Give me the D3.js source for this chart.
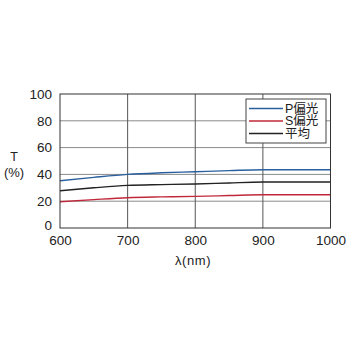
<!DOCTYPE html>
<html>
<head>
<meta charset="utf-8">
<script src="https://cdn.jsdelivr.net/npm/d3@7"></script>
<style>
  body { margin: 0; background: #fff; }
  text { font-family: "Liberation Sans", Arial, "Noto Sans CJK JP", sans-serif; fill: #222; }
</style>
</head>
<body>
<svg id="chart" width="350" height="350"></svg>
<script>
const wavelength = [600, 650, 700, 750, 800, 850, 900, 950, 1000];
const pPol = [35.3, 37.8, 40.0, 41.2, 42.0, 42.8, 43.5, 43.5, 43.5];
const sPol = [19.6, 21.2, 22.6, 23.2, 23.6, 24.2, 24.8, 24.8, 24.8];
const avg = [27.8, 30.0, 31.8, 32.4, 32.8, 33.6, 34.3, 34.3, 34.3];
const xTicks = [600, 700, 800, 900, 1000];
const yTicks = [0, 20, 40, 60, 80, 100];
const seriesNames = ['P偏光', 'S偏光', '平均'];
const seriesColors = ['#2a5f9e', '#c0283a', '#222'];

const mLeft = 60, mRight = 330.5, mTop = 94, mBottom = 228;
const svg = d3.select('#chart');
const x = d3.scaleLinear().domain([600, 1000]).range([mLeft, mRight]);
const y = d3.scaleLinear().domain([0, 100]).range([mBottom, mTop]);

// grid
svg.append('g')
  .selectAll('line')
  .data(yTicks.slice(1, -1))
  .join('line')
  .attr('x1', mLeft).attr('x2', mRight)
  .attr('y1', d => y(d)).attr('y2', d => y(d))
  .attr('stroke', '#8a8a8a').attr('stroke-width', 1);
svg.append('g')
  .selectAll('line')
  .data(xTicks.slice(1, -1))
  .join('line')
  .attr('y1', mTop).attr('y2', mBottom)
  .attr('x1', d => x(d)).attr('x2', d => x(d))
  .attr('stroke', '#555').attr('stroke-width', 1);

// lines
const line = d3.line().x((d, i) => x(wavelength[i])).y(d => y(d)).curve(d3.curveMonotoneX);
[pPol, sPol, avg].forEach((s, i) => {
  svg.append('path')
    .attr('d', line(s))
    .attr('fill', 'none')
    .attr('stroke', seriesColors[i])
    .attr('stroke-width', 1.4);
});

// frame
svg.append('rect')
  .attr('x', mLeft).attr('y', mTop)
  .attr('width', mRight - mLeft).attr('height', mBottom - mTop)
  .attr('fill', 'none').attr('stroke', '#333').attr('stroke-width', 1);

// axes
const xAxis = svg.append('g').attr('transform', `translate(0,${mBottom})`)
  .call(d3.axisBottom(x).tickValues(xTicks).tickFormat(d3.format('d')).tickSize(0).tickPadding(7));
xAxis.select('.domain').remove();
xAxis.selectAll('text').style('font-size', '13.5px').attr('fill', '#222');

const yAxis = svg.append('g').attr('transform', `translate(${mLeft},0)`)
  .call(d3.axisLeft(y).tickValues(yTicks).tickSize(0).tickPadding(8));
yAxis.select('.domain').remove();
yAxis.selectAll('text').style('font-size', '13.5px').attr('fill', '#222')
  .attr('dy', d => d === 0 ? '0.1em' : '0.32em');

// axis titles
svg.append('text').attr('x', 14).attr('y', 157).attr('text-anchor', 'middle')
  .attr('dominant-baseline', 'central').style('font-size', '12.5px').text('T');
svg.append('text').attr('x', 14).attr('y', 172).attr('text-anchor', 'middle')
  .attr('dominant-baseline', 'central').style('font-size', '13px').text('(%)');
svg.append('text').attr('x', 193).attr('y', 260.5).attr('text-anchor', 'middle')
  .attr('dominant-baseline', 'central').style('font-size', '13px')
  .style('letter-spacing', '0.6px').text('λ(nm)');

// legend
const legend = svg.append('g');
legend.append('rect')
  .attr('x', 246).attr('y', 99).attr('width', 80).attr('height', 44)
  .attr('fill', '#fff').attr('stroke', '#444').attr('stroke-width', 1);
const rows = [108.5, 121, 133.5];
seriesNames.forEach((n, i) => {
  legend.append('line')
    .attr('x1', 249).attr('x2', 283)
    .attr('y1', rows[i]).attr('y2', rows[i])
    .attr('stroke', seriesColors[i]).attr('stroke-width', 1.4);
  legend.append('text')
    .attr('x', 285).attr('y', rows[i]).attr('dominant-baseline', 'central')
    .style('font-size', '12.5px').text(n);
});
</script>
</body>
</html>
